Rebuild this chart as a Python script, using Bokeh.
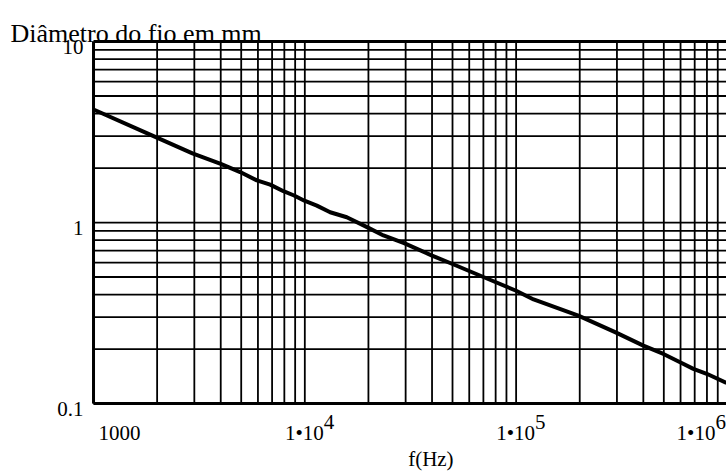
from bokeh.plotting import figure
from bokeh.models import Range1d
from bokeh.core.properties import value
from bokeh.embed import file_html
from bokeh.resources import INLINE

# ---- data ----
freq_hz = [1000, 1854, 2939, 4000, 4943, 5929, 6855, 7925, 8895, 9954,
           11400, 13180, 15800, 19800, 23560, 29500, 40000, 50000, 70000,
           100000, 121000, 197000, 294000, 400000, 498000, 597000, 690000,
           798000, 990000]
diam_mm = [4.21, 3.06, 2.41, 2.11, 1.90, 1.71, 1.62, 1.49, 1.41, 1.32,
           1.24, 1.14, 1.07, 0.94, 0.848, 0.769, 0.657, 0.59, 0.50,
           0.42, 0.376, 0.306, 0.248, 0.209, 0.188, 0.169, 0.1555,
           0.146, 0.130]

x_decades = [1000, 10000, 100000, 1000000]
x_tick_base = ["1000", "1•10", "1•10", "1•10"]
x_tick_exp = ["", "4", "5", "6"]
y_decades = [0.1, 1, 10]
y_tick_labels = ["0.1", "1", "10"]
title_text = "Diâmetro do fio em mm"
x_label_text = "f(Hz)"
x_label_pos = 39500

FONT = value("Liberation Serif")
FS = value("21px")

# plot window in data units (frame spans the whole canvas; the drawn
# box runs from 1000 Hz / 0.1 mm to 10 mm and is cut at the right edge)
X0, X1 = 362.9, 9.9e5
Y0, Y1 = 0.04107, 16.85
x_lo, y_lo, y_hi = x_decades[0], y_decades[0], y_decades[-1]

x_grid = [m * d for d in x_decades for m in range(1, 10)]
y_grid = [m * d for d in y_decades[:-1] for m in range(1, 10)]

p = figure(x_axis_type="log", y_axis_type="log",
           x_range=Range1d(X0, X1), y_range=Range1d(Y0, Y1),
           width=726, height=473, min_border=0,
           output_backend="svg", toolbar_location=None)
p.outline_line_color = None
p.axis.visible = False
p.grid.visible = False
p.background_fill_color = "white"
p.border_fill_color = "white"

# grid
p.segment(x0=x_grid, y0=[y_lo] * len(x_grid), x1=x_grid, y1=[y_hi] * len(x_grid),
          line_color="black", line_width=1.8)
p.segment(x0=[x_lo] * len(y_grid), y0=y_grid, x1=[X1 * 2] * len(y_grid), y1=y_grid,
          line_color="black", line_width=1.8)
# box edges (left, bottom, top)
p.segment(x0=[x_lo, x_lo, x_lo], y0=[y_lo, y_lo, y_hi],
          x1=[x_lo, X1 * 2, X1 * 2], y1=[y_hi, y_lo, y_hi],
          line_color="black", line_width=3)

# curve
p.line(freq_hz, diam_mm, line_color="black", line_width=4)

# y tick labels
p.text(x=[x_lo] * len(y_decades), y=y_decades, text=y_tick_labels,
       x_offset=-10, y_offset=5, text_align="right", text_baseline="middle",
       text_font=FONT, text_font_size=FS, text_color="black")

# x tick labels
p.text(x=[x_decades[0]], y=[y_lo], text=[x_tick_base[0]],
       x_offset=5, y_offset=29, text_align="left", text_baseline="alphabetic",
       text_font=FONT, text_font_size=FS, text_color="black")
n = len(x_decades)
for i in range(1, n):
    off = 19 if i < n - 1 else -12
    p.text(x=[x_decades[i]], y=[y_lo], text=[x_tick_base[i]],
           x_offset=off, y_offset=29, text_align="right", text_baseline="alphabetic",
           text_font=FONT, text_font_size=FS, text_color="black")
    p.text(x=[x_decades[i]], y=[y_lo], text=[x_tick_exp[i]],
           x_offset=off, y_offset=18, text_align="left", text_baseline="alphabetic",
           text_font=FONT, text_font_size=FS, text_color="black")

# captions
p.text(x=[x_lo], y=[y_hi], text=[title_text], x_offset=-83, y_offset=-8,
       text_align="left", text_baseline="alphabetic",
       text_font=FONT, text_font_size=value("26px"), text_color="black")
p.text(x=[x_label_pos], y=[y_lo], text=[x_label_text], y_offset=55,
       text_align="center", text_baseline="alphabetic",
       text_font=FONT, text_font_size=FS, text_color="black")

open("out.html", "w").write(file_html(p, INLINE))
